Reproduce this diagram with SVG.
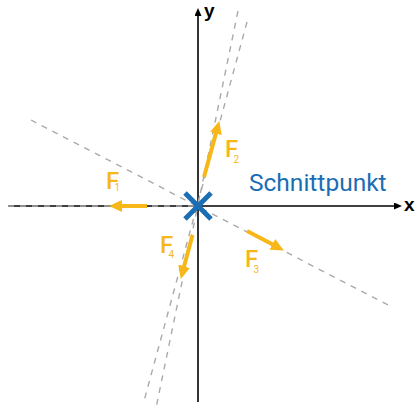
<svg xmlns="http://www.w3.org/2000/svg" width="418" height="418" viewBox="0 0 418 418">
<defs>
<style>
.dash{stroke:#aaaaaa;stroke-width:1.4;stroke-dasharray:6 6;fill:none}
.axis{stroke:#000;stroke-width:1.6;fill:none}
.force{stroke:#f8b718;stroke-width:4;fill:none}
.flab{font-family:Roboto,"Liberation Sans",sans-serif;font-size:24px;font-weight:500;fill:#f8b718}
.sub{font-size:10px;font-weight:400}
.alab{font-family:"Liberation Sans",Arial,sans-serif;font-weight:bold;font-size:19px;fill:#000}
</style>
<marker id="ah" markerUnits="userSpaceOnUse" markerWidth="13" markerHeight="12" refX="2" refY="6" orient="auto">
<path d="M0,0 L13,6 L0,12 z" fill="#f8b718"/>
</marker>
<marker id="ax" markerUnits="userSpaceOnUse" markerWidth="8" markerHeight="7" refX="1" refY="3.5" orient="auto">
<path d="M0,0 L8,3.5 L0,7 z" fill="#000"/>
</marker>
</defs>
<g id="axes">
<line class="axis" x1="8" y1="206" x2="395" y2="206" marker-end="url(#ax)"/>
<line class="axis" x1="198" y1="402" x2="198" y2="15" marker-end="url(#ax)"/>
<text class="alab" x="204" y="17">y</text>
<text class="alab" x="404" y="211">x</text>
</g>
<g id="connectors">
<line class="dash" x1="8" y1="206" x2="198" y2="206"/>
<line class="dash" x1="31" y1="120" x2="392" y2="307"/>
<line class="dash" x1="238" y1="11" x2="156" y2="408"/>
<line class="dash" x1="247" y1="22" x2="144" y2="401"/>
</g>
<g id="F1">
<line class="force" x1="147" y1="206" x2="120" y2="206" marker-end="url(#ah)"/>
<text class="flab" x="106" y="189">F<tspan class="sub" x="114.5" y="191">1</tspan></text>
</g>
<g id="F2">
<line class="force" x1="204" y1="177" x2="216.4" y2="131.6" marker-end="url(#ah)"/>
<text class="flab" x="225" y="157">F<tspan class="sub" x="233.5" y="163">2</tspan></text>
</g>
<g id="F3">
<line class="force" x1="247" y1="231" x2="274.2" y2="245.3" marker-end="url(#ah)"/>
<text class="flab" x="245" y="267">F<tspan class="sub" x="253.5" y="273">3</tspan></text>
</g>
<g id="F4">
<line class="force" x1="192.5" y1="235" x2="183.6" y2="268.3" marker-end="url(#ah)"/>
<text class="flab" x="160" y="253">F<tspan class="sub" x="168.5" y="258">4</tspan></text>
</g>
<g id="schnittpunkt">
<line x1="185" y1="193" x2="211" y2="219" stroke="#1b6db4" stroke-width="5"/>
<line x1="211" y1="193" x2="185" y2="219" stroke="#1b6db4" stroke-width="5"/>
<text x="249" y="191" font-family="Roboto,'Liberation Sans',sans-serif" font-size="24.5" fill="#1b6db4">Schnittpunkt</text>
</g>
</svg>
